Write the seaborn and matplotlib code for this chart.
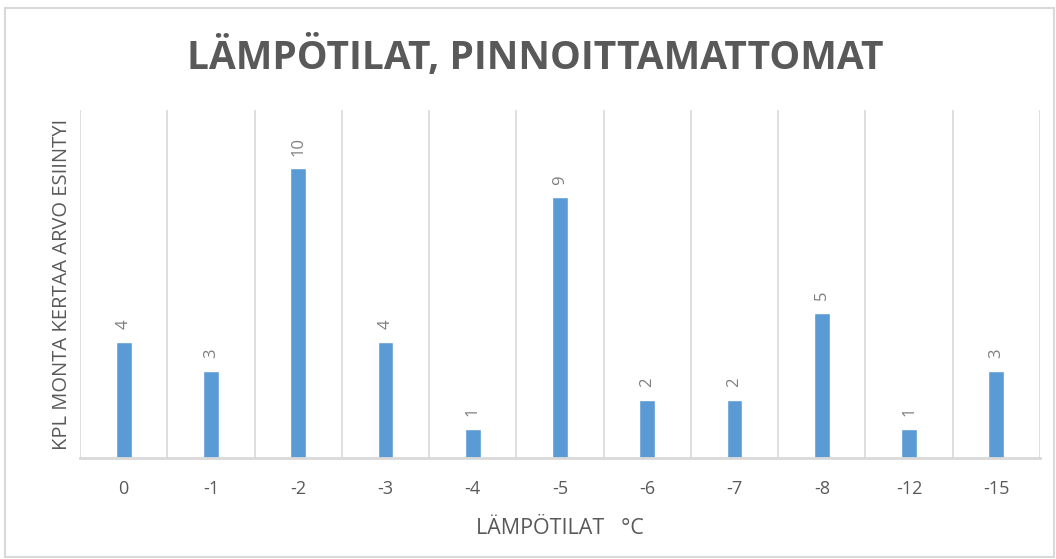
import pandas as pd
import matplotlib.pyplot as plt
import seaborn as sns
from matplotlib.patches import Rectangle

# Lämpötilat ja kuinka monta kertaa kukin arvo esiintyi
temps = ["0", "-1", "-2", "-3", "-4", "-5", "-6", "-7", "-8", "-12", "-15"]
counts = [4, 3, 10, 4, 1, 9, 2, 2, 5, 1, 3]

df = pd.DataFrame({"temp": temps, "count": counts})

sns.set_style("white")
plt.rcParams["font.family"] = ["Open Sans", "DejaVu Sans"]

fig = plt.figure(figsize=(10.56, 5.59), dpi=100)
ax = fig.add_axes([0.0758, 0.1807, 0.909, 0.6225])

sns.barplot(data=df, x="temp", y="count", order=temps, color="#5B9BD5",
            saturation=1, width=0.18, ax=ax)

# value labels, rotated like in the original
for i, v in enumerate(counts):
    ax.annotate(str(v), (i, v), xytext=(0, 9), textcoords="offset points",
                rotation=90, ha="center", va="bottom", fontsize=12, color="#7F7F7F")

ax.set_ylim(0, 12)
ax.set_xlim(-0.5, len(temps) - 0.5)
ax.set_yticks([])
ax.set_xticks(range(len(temps)))
ax.set_xticklabels(temps, fontsize=13, color="#595959")
ax.tick_params(axis="x", length=0, pad=16)

# vertical gridlines between categories
ax.set_xticks([i - 0.5 for i in range(len(temps) + 1)], minor=True)
ax.tick_params(axis="x", which="minor", length=0)
ax.grid(axis="x", which="minor", color="#D9D9D9", linewidth=1.2)
ax.grid(axis="x", which="major", visible=False)

for s in ["top", "right", "left"]:
    ax.spines[s].set_visible(False)
ax.spines["bottom"].set_color("#D9D9D9")
ax.spines["bottom"].set_linewidth(2)

ax.set_xlabel("LÄMPÖTILAT   °C", fontsize=15.5, color="#595959", labelpad=14)
ax.set_ylabel("KPL MONTA KERTAA ARVO ESIINTYI", fontsize=14.5, color="#595959", labelpad=6)

fig.text(0.507, 0.898, "LÄMPÖTILAT, PINNOITTAMATTOMAT", ha="center", va="center",
         fontsize=28, fontweight="bold", color="#595959")

# light border around the chart
fig.patches.append(Rectangle((0.005, 0.003), 0.993, 0.983, transform=fig.transFigure,
                             fill=False, edgecolor="#D9D9D9", linewidth=1.5))

plt.savefig("out.png", dpi=100)
